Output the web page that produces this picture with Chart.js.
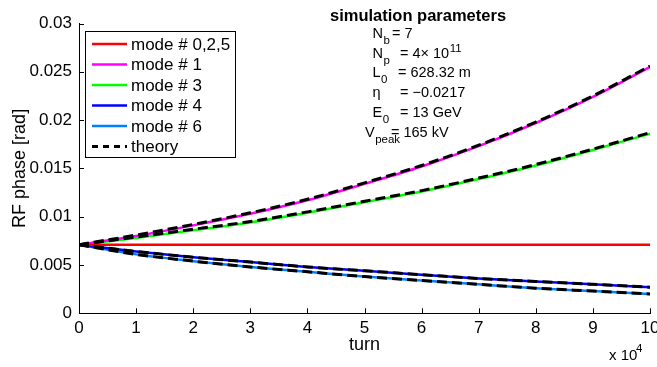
<!DOCTYPE html>
<html>
<head>
<meta charset="utf-8">
<script src="https://cdn.jsdelivr.net/npm/chart.js@4.4.1/dist/chart.umd.min.js"></script>
<style>
  html, body { margin: 0; padding: 0; background: #fff; }
</style>
</head>
<body>
<canvas id="phaseChart" width="657" height="367"></canvas>
<script>
// turn number (plotted in units of 1e4 on the axis)
const turns = [0, 10000, 20000, 30000, 40000, 50000, 60000, 70000, 80000, 90000, 100000];

// RF phase [rad] per coupled-bunch mode
const mode025 = [0.0071, 0.0071, 0.0071, 0.0071, 0.0071, 0.0071, 0.0071, 0.0071, 0.0071, 0.0071, 0.0071];
const mode1 = [0.0071, 0.0080, 0.0091, 0.0103, 0.0117, 0.0134, 0.0152, 0.0173, 0.0197, 0.0224, 0.0255];
const mode3 = [0.0071, 0.0078, 0.0086, 0.0094, 0.0104, 0.0115, 0.0126, 0.0139, 0.0153, 0.0169, 0.0186];
const mode4 = [0.0071, 0.0064, 0.0058, 0.0053, 0.0048, 0.0044, 0.0040, 0.0036, 0.0033, 0.0030, 0.0027];
const mode6 = [0.0071, 0.0061, 0.0054, 0.0048, 0.0043, 0.0038, 0.0034, 0.0030, 0.0026, 0.0023, 0.0020];

// analytic growth / damping
const theory1 = [0.0071, 0.0081, 0.0092, 0.0104, 0.0118, 0.0135, 0.0153, 0.0174, 0.0198, 0.0225, 0.0256];
const theory3 = [0.0071, 0.0079, 0.0087, 0.0095, 0.0105, 0.0116, 0.0127, 0.0140, 0.0154, 0.0170, 0.0187];
const theory4 = [0.0071, 0.0064, 0.0058, 0.0053, 0.0048, 0.0044, 0.0040, 0.0036, 0.0033, 0.0030, 0.0027];
const theory6 = [0.0071, 0.0061, 0.0054, 0.0048, 0.0043, 0.0038, 0.0034, 0.0030, 0.0026, 0.0023, 0.0020];

const xTicks = [0, 1, 2, 3, 4, 5, 6, 7, 8, 9, 10];
const yTicks = [0, 0.005, 0.01, 0.015, 0.02, 0.025, 0.03];

const params = [
  { sym: "N", sub: "b", val: "= 7", vx: 392 },
  { sym: "N", sub: "p", val: "= 4\u00d7 10", sup: "11", vx: 400 },
  { sym: "L", sub: "0", val: "= 628.32 m", vx: 398 },
  { sym: "\u03b7", sub: "", val: "= \u22120.0217", vx: 400 },
  { sym: "E", sub: "0", val: "= 13 GeV", vx: 400 },
  { sym: "V", sub: "peak", val: "= 165 kV", vx: 391, sx: 365 },
];

const FONT = "'Liberation Sans', Arial, Helvetica, sans-serif";
Chart.defaults.font.family = FONT;
Chart.defaults.color = "#000";

const pts = (ys) => ys.map((v, i) => ({ x: turns[i], y: v }));

function modeLine(label, ys, color) {
  return {
    label: label,
    data: pts(ys),
    borderColor: color,
    borderWidth: 2.5,
    pointRadius: 0,
    cubicInterpolationMode: "monotone",
    order: 1,
  };
}

function theoryLine(ys) {
  return {
    label: "theory",
    data: pts(ys),
    borderColor: "#000",
    borderWidth: 3,
    borderDash: [10, 5],
    pointRadius: 0,
    cubicInterpolationMode: "monotone",
    order: 0,
  };
}

// tick marks pointing into the plot, MATLAB style
const innerTicks = {
  id: "innerTicks",
  afterDraw(chart) {
    const { ctx, chartArea: a, scales } = chart;
    ctx.save();
    ctx.strokeStyle = "#000";
    ctx.lineWidth = 1;
    ctx.beginPath();
    scales.x.ticks.forEach((t) => {
      const px = Math.round(scales.x.getPixelForValue(t.value)) + 0.5;
      ctx.moveTo(px, a.bottom);
      ctx.lineTo(px, a.bottom - 5);
    });
    scales.y.ticks.forEach((t) => {
      const py = Math.round(scales.y.getPixelForValue(t.value)) + 0.5;
      ctx.moveTo(a.left, py);
      ctx.lineTo(a.left + 5, py);
    });
    ctx.stroke();
    ctx.restore();
  },
};

// boxed legend in the upper-left corner
const boxLegend = {
  id: "boxLegend",
  afterDraw(chart) {
    const ctx = chart.ctx;
    const seen = [];
    chart.data.datasets.forEach((ds) => {
      if (!seen.find((d) => d.label === ds.label)) seen.push(ds);
    });
    // mode entries first, theory last
    seen.sort((a, b) => (a.label === "theory") - (b.label === "theory"));
    const x0 = 85.5, y0 = 31.5, w = 150, h = 126;
    ctx.save();
    ctx.fillStyle = "#fff";
    ctx.fillRect(x0, y0, w, h);
    ctx.strokeStyle = "#000";
    ctx.lineWidth = 1;
    ctx.strokeRect(x0, y0, w, h);
    ctx.font = "17px " + FONT;
    ctx.textBaseline = "middle";
    seen.forEach((ds, i) => {
      const cy = 44 + i * 20.5;
      ctx.beginPath();
      ctx.strokeStyle = ds.borderColor;
      ctx.lineWidth = ds.borderWidth;
      ctx.setLineDash(ds.borderDash ? [6, 5] : []);
      ctx.moveTo(92, cy);
      ctx.lineTo(127, cy);
      ctx.stroke();
      ctx.setLineDash([]);
      ctx.fillStyle = "#000";
      ctx.fillText(ds.label, 131, cy + 1);
    });
    ctx.restore();
  },
};

// parameter block and axis multiplier
const annotations = {
  id: "annotations",
  afterDraw(chart) {
    const ctx = chart.ctx;
    ctx.save();
    ctx.fillStyle = "#000";
    ctx.textBaseline = "alphabetic";
    ctx.font = "bold 16.5px " + FONT;
    ctx.fillText("simulation parameters", 330, 20.5);
    params.forEach((p, i) => {
      const base = 38 + i * 19.7;
      const sx = p.sx || 372.5;
      ctx.font = "14.5px " + FONT;
      ctx.fillText(p.sym, sx, base);
      const symW = ctx.measureText(p.sym).width;
      ctx.fillText(p.val, p.vx, base);
      const valW = ctx.measureText(p.val).width;
      if (p.sub) {
        ctx.font = "11.5px " + FONT;
        ctx.fillText(p.sub, sx + symW + 0.5, base + 6);
      }
      if (p.sup) {
        ctx.font = "11.5px " + FONT;
        ctx.fillText(p.sup, p.vx + valW + 0.5, base - 5.5);
      }
    });
    ctx.font = "15px " + FONT;
    ctx.fillText("x 10", 609, 360);
    ctx.font = "11.5px " + FONT;
    ctx.fillText("4", 636, 352);
    ctx.restore();
  },
};

new Chart(document.getElementById("phaseChart"), {
  type: "line",
  data: {
    datasets: [
      modeLine("mode # 0,2,5", mode025, "#ff0000"),
      modeLine("mode # 1", mode1, "#ff00ff"),
      modeLine("mode # 3", mode3, "#00ff00"),
      modeLine("mode # 4", mode4, "#0000ff"),
      modeLine("mode # 6", mode6, "#0080ff"),
      theoryLine(theory1),
      theoryLine(theory3),
      theoryLine(theory4),
      theoryLine(theory6),
    ],
  },
  options: {
    responsive: false,
    animation: false,
    layout: { padding: { top: 23.5, right: 7, left: 0, bottom: 0 } },
    plugins: { legend: { display: false }, tooltip: { enabled: false } },
    scales: {
      x: {
        type: "linear",
        min: 0,
        max: 100000,
        afterBuildTicks: (s) => { s.ticks = xTicks.map((v) => ({ value: v * 10000 })); },
        ticks: {
          callback: (v) => String(v / 10000),
          font: { size: 17 },
          color: "#000",
          padding: 5,
          maxRotation: 0,
          autoSkip: false,
        },
        grid: { display: true, drawOnChartArea: false, drawTicks: false },
        border: { color: "#000", width: 1 },
        title: { display: true, text: "turn", color: "#000", font: { size: 18 }, padding: { top: 0, bottom: 11 } },
        afterFit: (s) => { s.height = 53.7; s.paddingLeft = 0; s.paddingRight = 0; },
      },
      y: {
        min: 0,
        max: 0.03,
        afterBuildTicks: (s) => { s.ticks = yTicks.map((v) => ({ value: v })); },
        ticks: {
          callback: (v) => String(+v.toFixed(3)),
          font: { size: 17 },
          color: "#000",
          padding: 7,
        },
        grid: { display: true, drawOnChartArea: false, drawTicks: false },
        border: { color: "#000", width: 1 },
        title: { display: true, text: "RF phase [rad]", color: "#000", font: { size: 18 }, padding: { top: 9, bottom: 0 } },
        afterFit: (s) => { s.width = 79; s.paddingTop = 0; s.paddingBottom = 0; },
      },
    },
  },
  plugins: [innerTicks, boxLegend, annotations],
});
</script>
</body>
</html>
